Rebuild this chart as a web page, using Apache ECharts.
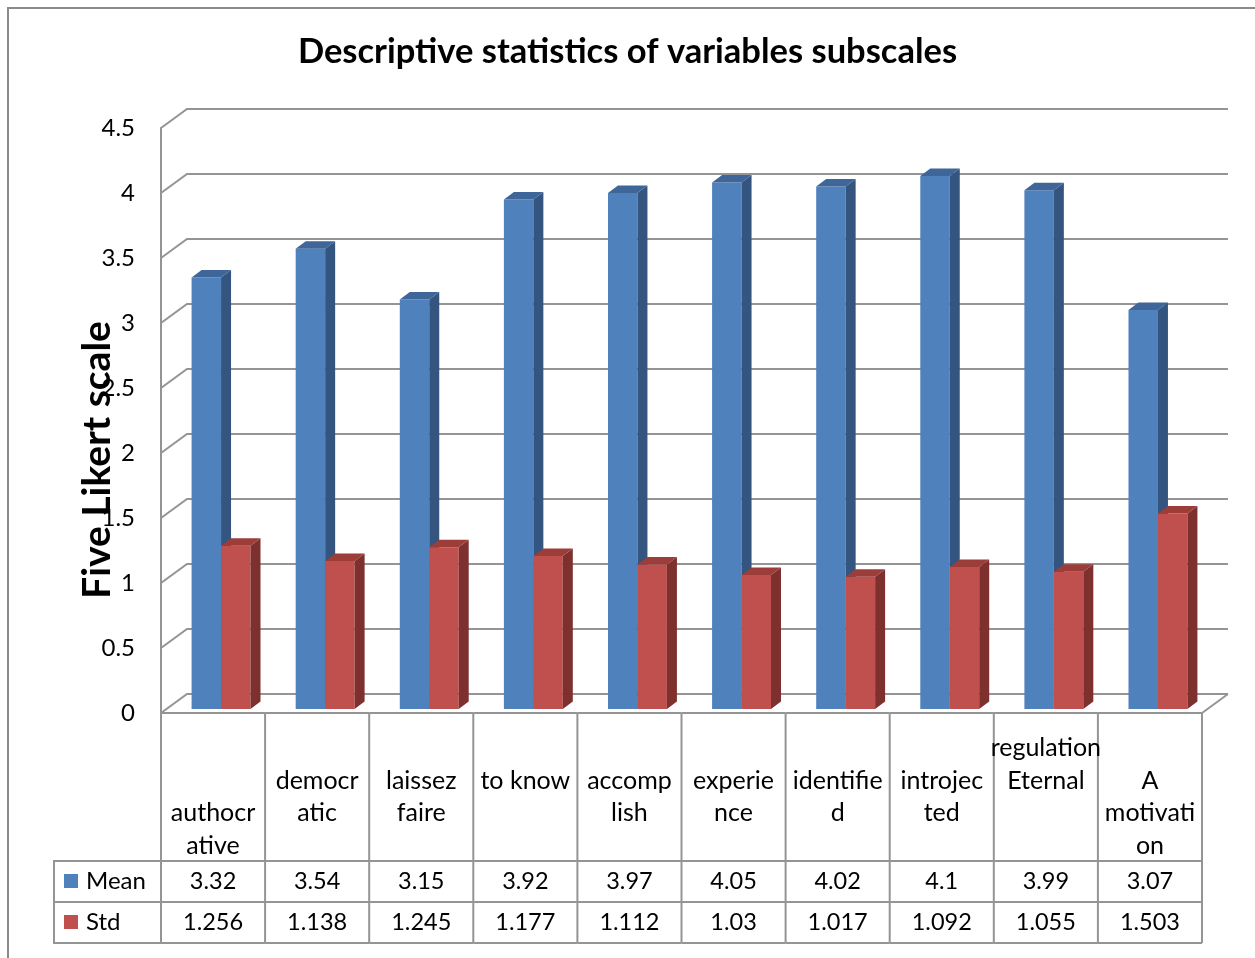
<!DOCTYPE html>
<html>
<head>
<meta charset="utf-8">
<script src="https://cdn.jsdelivr.net/npm/echarts@6/dist/echarts.min.js"></script>
<style>
  html, body { margin: 0; padding: 0; background: #fff; }
  #chart { width: 1255px; height: 958px; }
</style>
</head>
<body>
<div id="chart"></div>
<script>
// Category labels as wrapped in the data-table header (leading blank lines keep the wrap layout)
const categories = [
  '\n\nauthocr\native', '\ndemocr\natic', '\nlaissez\nfaire', '\nto know',
  '\naccomp\nlish', '\nexperie\nnce', '\nidentifie\nd', '\nintrojec\nted',
  'regulation\nEternal', '\nA\nmotivati\non'
];
const seriesNames = ['Mean', 'Std'];
const meanValues = [3.32, 3.54, 3.15, 3.92, 3.97, 4.05, 4.02, 4.1, 3.99, 3.07];
const stdValues = [1.256, 1.138, 1.245, 1.177, 1.112, 1.03, 1.017, 1.092, 1.055, 1.503];
const gridTicks = [0, 0.5, 1, 1.5, 2, 2.5, 3, 3.5, 4, 4.5];

const FONT = 'Lato, "Open Sans", sans-serif';
const LINE = '#949494';
const COLORS = {
  Mean: { front: '#4F81BD', side: '#34557F', top: '#3E6699' },
  Std:  { front: '#C0504D', side: '#7D302E', top: '#9C3D3A' }
};

// depth of the back wall and of the bars
const WALL_DX = 26, WALL_DY = 19;
const BAR_SHIFT_X = 8, BAR_SHIFT_Y = -4;
const BAR_DX = 10, BAR_DY = 7.5;
const BAR_RATIO = 0.283;

// data table rows, measured from the floor edge
const HEAD_H = 148, ROW_H = 41, LINE_H = 32.5;
const HEAD_FONT = '25px ' + FONT;
const CELL_FONT = '23.5px ' + FONT;

const chart = echarts.init(document.getElementById('chart'), null, { renderer: 'canvas' });

function wallItem(params, api) {
  const cs = params.coordSys;
  const v = api.value(1);
  const y = api.coord([0, v])[1];
  const x0 = cs.x, x1 = cs.x + cs.width;
  const children = [{
    type: 'polyline',
    shape: { points: [[x0, y], [x0 + WALL_DX, y - WALL_DY], [x1 + WALL_DX, y - WALL_DY]] },
    style: { stroke: LINE, lineWidth: 2, fill: null }
  }];
  if (v === 0) {
    children.push({
      type: 'line',
      shape: { x1: x1, y1: y, x2: x1 + WALL_DX, y2: y - WALL_DY },
      style: { stroke: LINE, lineWidth: 2 }
    });
  }
  return { type: 'group', children };
}

function barRenderer(slot, colors) {
  return function (params, api) {
    const i = api.value(0), v = api.value(1);
    const catW = api.size([1, 0])[0];
    const bw = catW * BAR_RATIO;
    const base = api.coord([i, 0]);
    const top = api.coord([i, v]);
    const cx = base[0] + BAR_SHIFT_X;
    const xl = slot === 0 ? cx - bw : cx;
    const xr = xl + bw;
    const yB = base[1] + BAR_SHIFT_Y;
    const yT = top[1] + BAR_SHIFT_Y;
    return {
      type: 'group',
      children: [
        { type: 'rect', shape: { x: xl, y: yT, width: bw, height: yB - yT },
          style: { fill: colors.front } },
        { type: 'polygon', shape: { points: [[xr, yT], [xr + BAR_DX, yT - BAR_DY], [xr + BAR_DX, yB - BAR_DY], [xr, yB]] },
          style: { fill: colors.side } },
        { type: 'polygon', shape: { points: [[xl, yT], [xl + BAR_DX, yT - BAR_DY], [xr + BAR_DX, yT - BAR_DY], [xr, yT]] },
          style: { fill: colors.top } }
      ]
    };
  };
}

function tableItem(params, api) {
  const i = api.value(0);
  const catW = api.size([1, 0])[0];
  const base = api.coord([i, 0]);
  const xl = base[0] - catW / 2, xr = base[0] + catW / 2, cx = base[0];
  const y0 = base[1];
  const yH = y0 + HEAD_H, yM = yH + ROW_H, yS = yM + ROW_H;
  const ls = { stroke: LINE, lineWidth: 2 };
  const children = [
    { type: 'line', shape: { x1: xl, y1: y0, x2: xr, y2: y0 }, style: ls },
    { type: 'line', shape: { x1: xl, y1: yH, x2: xr, y2: yH }, style: ls },
    { type: 'line', shape: { x1: xl, y1: yM, x2: xr, y2: yM }, style: ls },
    { type: 'line', shape: { x1: xl, y1: yS, x2: xr, y2: yS }, style: ls },
    { type: 'line', shape: { x1: xr, y1: y0, x2: xr, y2: yS }, style: ls },
    { type: 'text', style: {
        text: categories[i], x: cx, y: y0 + 35 - LINE_H / 2, align: 'center', verticalAlign: 'top',
        lineHeight: LINE_H, font: HEAD_FONT, fill: '#000' } },
    { type: 'text', style: {
        text: String(meanValues[i]), x: cx, y: yH + ROW_H / 2, align: 'center', verticalAlign: 'middle',
        font: CELL_FONT, fill: '#000' } },
    { type: 'text', style: {
        text: String(stdValues[i]), x: cx, y: yM + ROW_H / 2, align: 'center', verticalAlign: 'middle',
        font: CELL_FONT, fill: '#000' } }
  ];
  if (i === 0) {
    children.push({ type: 'line', shape: { x1: xl, y1: y0, x2: xl, y2: yS }, style: ls });
  }
  return { type: 'group', children };
}

const option = {
  backgroundColor: '#fff',
  animation: false,
  title: {
    text: 'Descriptive statistics of variables subscales',
    left: 'center',
    top: 29,
    textStyle: { fontFamily: FONT, fontWeight: 'bold', fontSize: 34.5, color: '#000' }
  },
  grid: { left: 161, top: 128, width: 1041, height: 585 },
  xAxis: {
    type: 'category',
    data: categories.map((c, i) => i),
    axisLine: { show: false }, axisTick: { show: false }, axisLabel: { show: false },
    splitLine: { show: false }
  },
  yAxis: {
    type: 'value', min: 0, max: 4.5, interval: 0.5,
    axisLine: { show: true, lineStyle: { color: LINE, width: 2 } },
    axisTick: { show: false },
    splitLine: { show: false },
    axisLabel: { fontFamily: FONT, fontSize: 24, color: '#000', margin: 26 }
  },
  graphic: [
    { type: 'rect', shape: { x: 8, y: 8, width: 1400, height: 1100 },
      style: { fill: null, stroke: '#8A8A8A', lineWidth: 2 }, z: 0 },
    // axis title, drawn over the tick labels
    { type: 'text', x: 97, y: 460, rotation: Math.PI / 2, z: 10,
      style: { text: 'Five Likert scale', font: 'bold 39px ' + FONT, fill: '#000',
               align: 'center', verticalAlign: 'middle' } },
    // legend cells of the data table
    { type: 'polyline', shape: { points: [[161, 861], [54, 861], [54, 943], [161, 943]] },
      style: { stroke: LINE, lineWidth: 2, fill: null } },
    { type: 'line', shape: { x1: 54, y1: 902, x2: 161, y2: 902 }, style: { stroke: LINE, lineWidth: 2 } },
    { type: 'rect', shape: { x: 64, y: 874, width: 14, height: 14 }, style: { fill: COLORS.Mean.front } },
    { type: 'rect', shape: { x: 64, y: 915, width: 14, height: 14 }, style: { fill: COLORS.Std.front } },
    { type: 'text', x: 86, y: 881, style: { text: seriesNames[0], font: '24px ' + FONT, fill: '#000', verticalAlign: 'middle' } },
    { type: 'text', x: 86, y: 922, style: { text: seriesNames[1], font: '24px ' + FONT, fill: '#000', verticalAlign: 'middle' } }
  ],
  series: [
    { type: 'custom', name: 'wall', clip: false, z: 1,
      data: gridTicks.map(v => [0, v]), renderItem: wallItem },
    { type: 'custom', name: seriesNames[0], clip: false, z: 3,
      data: meanValues.map((v, i) => [i, v]), renderItem: barRenderer(0, COLORS.Mean) },
    { type: 'custom', name: seriesNames[1], clip: false, z: 4,
      data: stdValues.map((v, i) => [i, v]), renderItem: barRenderer(1, COLORS.Std) },
    { type: 'custom', name: 'table', clip: false, z: 2,
      data: categories.map((c, i) => [i]), renderItem: tableItem }
  ]
};

chart.setOption(option);
</script>
</body>
</html>
